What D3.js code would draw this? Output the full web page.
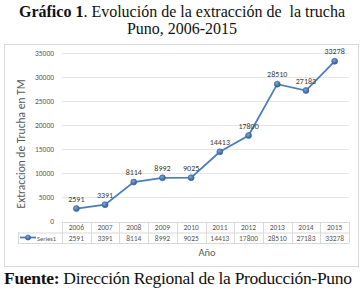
<!DOCTYPE html>
<html>
<head>
<meta charset="utf-8">
<script src="https://cdn.jsdelivr.net/npm/d3@7"></script>
<style>
  body { margin: 0; background: #fff; }
</style>
</head>
<body>
<div id="canvas"></div>
<script>
// Data

let years = ["2006", "2007", "2008", "2009", "2010", "2011", "2012", "2013", "2014", "2015"];
let values = [2591, 3391, 8114, 8992, 9025, 14413, 17800, 28510, 27183, 33278];
let yTicks = [0, 5000, 10000, 15000, 20000, 25000, 30000, 35000];
let seriesName = "Series1";

// Dimensions

let W = 364, H = 291;
let plot = {left: 62, right: 349, top: 53, bottom: 221};

let svg = d3.select("#canvas")
    .append("svg")
    .attr("width", W)
    .attr("height", H)
    .style("font-family", "Calibri, Carlito, 'Open Sans', sans-serif");

// Title

let title = svg.append("text")
    .attr("x", 182)
    .attr("y", 17)
    .attr("xml:space", "preserve")
    .style("font-family", "'Liberation Serif', 'Times New Roman', serif")
    .style("font-size", "16px")
    .style("text-anchor", "middle")
    .style("fill", "#111");
title.append("tspan").style("font-weight", "bold").text("Gráfico 1");
title.append("tspan").text(". Evolución de la extracción de\u00a0 la trucha");

svg.append("text")
    .attr("x", 182)
    .attr("y", 34)
    .style("font-family", "'Liberation Serif', 'Times New Roman', serif")
    .style("font-size", "16px")
    .style("text-anchor", "middle")
    .style("fill", "#111")
    .text("Puno, 2006-2015");

// Chart frame

svg.append("rect")
    .attr("x", 4.5)
    .attr("y", 44.5)
    .attr("width", 354)
    .attr("height", 222)
    .style("fill", "#fff")
    .style("stroke", "#d9d9d9");

// Scales

let xScale = d3.scaleBand()
    .domain(years)
    .range([plot.left, plot.right]);

let yScale = d3.scaleLinear()
    .domain([0, 35000])
    .range([plot.bottom, plot.top]);

// Gridlines and y axis

svg.append("g")
    .selectAll("line")
    .data(yTicks.slice(1))
    .enter()
    .append("line")
    .attr("x1", plot.left)
    .attr("x2", plot.right)
    .attr("y1", (d) => yScale(d) + 0.5)
    .attr("y2", (d) => yScale(d) + 0.5)
    .style("stroke", "#e6e6e6");

let yAxis = svg.append("g")
    .attr("transform", "translate(" + (plot.left - 4) + ", 0)")
    .call(d3.axisLeft(yScale).tickValues(yTicks).tickSize(0).tickPadding(4).tickFormat(d3.format("d")));
yAxis.select(".domain").remove();
yAxis.selectAll("text")
    .style("font-family", "Calibri, Carlito, 'Open Sans', sans-serif")
    .style("font-size", "7.5px")
    .style("fill", "#595959");

// Line and markers

svg.append("path")
    .datum(values)
    .style("fill", "none")
    .style("stroke", "#4a7ebb")
    .style("stroke-width", 1.8)
    .attr("d", d3.line()
        .x((d, i) => xScale(years[i]) + xScale.bandwidth() / 2)
        .y((d) => yScale(d))
    );

let grad = svg.append("defs").append("radialGradient")
    .attr("id", "mk")
    .attr("cx", "40%").attr("cy", "35%").attr("r", "65%");
grad.append("stop").attr("offset", "0%").attr("stop-color", "#7fa6d6");
grad.append("stop").attr("offset", "100%").attr("stop-color", "#2c5b91");

svg.append("g")
    .selectAll("circle")
    .data(values)
    .enter()
    .append("circle")
    .attr("cx", (d, i) => xScale(years[i]) + xScale.bandwidth() / 2)
    .attr("cy", (d) => yScale(d))
    .attr("r", 3)
    .style("fill", "url(#mk)")
    .style("stroke", "#3a679c")
    .style("stroke-width", 0.6);

// Data labels

svg.append("g")
    .selectAll("text")
    .data(values)
    .enter()
    .append("text")
    .attr("x", (d, i) => xScale(years[i]) + xScale.bandwidth() / 2)
    .attr("y", (d) => yScale(d) - 7)
    .style("font-size", "8px")
    .style("text-anchor", "middle")
    .style("fill", "#404040")
    .text((d) => d);

// Data table

let rowTop = 222, rowH = 10.5;
let tableLeft = 18;

let tbl = svg.append("g").style("stroke", "#d9d9d9").style("fill", "none");

tbl.append("line")
    .attr("x1", plot.left).attr("x2", plot.right)
    .attr("y1", rowTop + 0.5).attr("y2", rowTop + 0.5);
tbl.append("line")
    .attr("x1", tableLeft).attr("x2", plot.right)
    .attr("y1", rowTop + rowH + 0.5).attr("y2", rowTop + rowH + 0.5);
tbl.append("line")
    .attr("x1", tableLeft).attr("x2", plot.right)
    .attr("y1", rowTop + 2 * rowH + 0.5).attr("y2", rowTop + 2 * rowH + 0.5);
tbl.append("line")
    .attr("x1", tableLeft + 0.5).attr("x2", tableLeft + 0.5)
    .attr("y1", rowTop + rowH).attr("y2", rowTop + 2 * rowH);

tbl.selectAll(".vline")
    .data(years.concat(["end"]))
    .enter()
    .append("line")
    .attr("x1", (d, i) => Math.round(plot.left + i * xScale.bandwidth()) + 0.5)
    .attr("x2", (d, i) => Math.round(plot.left + i * xScale.bandwidth()) + 0.5)
    .attr("y1", rowTop)
    .attr("y2", rowTop + 2 * rowH);

svg.append("g")
    .selectAll("text")
    .data(years)
    .enter()
    .append("text")
    .attr("x", (d) => xScale(d) + xScale.bandwidth() / 2)
    .attr("y", rowTop + 8)
    .style("font-size", "7.5px")
    .style("text-anchor", "middle")
    .style("fill", "#595959")
    .text((d) => d);

svg.append("g")
    .selectAll("text")
    .data(values)
    .enter()
    .append("text")
    .attr("x", (d, i) => xScale(years[i]) + xScale.bandwidth() / 2)
    .attr("y", rowTop + rowH + 8)
    .style("font-size", "7.5px")
    .style("text-anchor", "middle")
    .style("fill", "#595959")
    .text((d) => d);

// Legend key in table

let keyY = rowTop + rowH + 5;
svg.append("line")
    .attr("x1", 20).attr("x2", 36)
    .attr("y1", keyY).attr("y2", keyY)
    .style("stroke", "#4a7ebb")
    .style("stroke-width", 1.8);
svg.append("circle")
    .attr("cx", 28).attr("cy", keyY).attr("r", 2.6)
    .style("fill", "url(#mk)")
    .style("stroke", "#3a679c")
    .style("stroke-width", 0.6);
svg.append("text")
    .attr("x", 37)
    .attr("y", rowTop + rowH + 8)
    .style("font-size", "6.5px")
    .style("fill", "#595959")
    .text(seriesName);

// Axis titles

svg.append("text")
    .attr("x", 207)
    .attr("y", 256)
    .style("font-size", "10.5px")
    .style("text-anchor", "middle")
    .style("fill", "#595959")
    .text("Año");

svg.append("text")
    .attr("transform", "translate(25, 144) rotate(-90)")
    .style("font-size", "11.5px")
    .style("text-anchor", "middle")
    .style("fill", "#595959")
    .text("Extraccion de Trucha en TM");

// Source

let src = svg.append("text")
    .attr("x", 4)
    .attr("y", 284)
    .style("font-family", "'Liberation Serif', 'Times New Roman', serif")
    .style("font-size", "17.5px")
    .style("fill", "#111")
    .style("letter-spacing", "-0.3px");
src.append("tspan").style("font-weight", "bold").text("Fuente: ");
src.append("tspan").text("Dirección Regional de la Producción-Puno");
</script>
</body>
</html>
